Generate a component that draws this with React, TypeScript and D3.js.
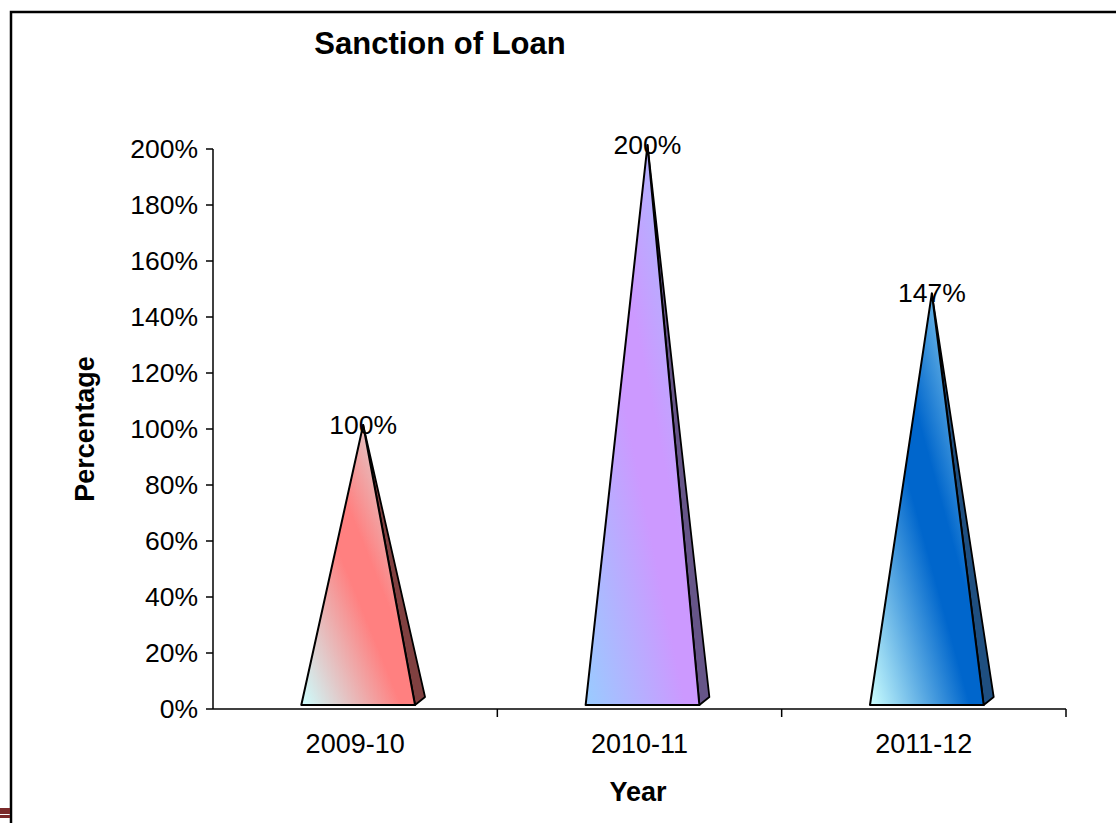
import React from "react";
import * as d3 from "d3";

// Sanction of loan, as a percentage, by financial year
const years = ["2009-10", "2010-11", "2011-12"];
const percentages = [100, 200, 147];
const yTicks = [0, 20, 40, 60, 80, 100, 120, 140, 160, 180, 200];

// gradient colours per pyramid: edge colour, centre colour, shaded side
const edgeColors = ["#ccffff", "#99ccff", "#ccffff"];
const centerColors = ["#ff8080", "#cc99ff", "#0066cc"];
const sideColors = ["#804040", "#665588", "#1f4f80"];

const W = 1116;
const H = 823;
const left = 213;
const right = 1066;
const top = 149;
const bottom = 709;

// 3D depth of the pyramid bases
const depthX = 10;
const depthY = -8;
const lift = 4;

const FONT = "'Liberation Sans', Arial, sans-serif";

export default function App() {
  const x = d3.scaleBand<string>().domain(years).range([left, right]).padding(0);
  const y = d3.scaleLinear().domain([0, 200]).range([bottom, top]);
  const baseWidth = x.bandwidth() * 0.4;

  return (
    <svg
      width={W}
      height={H}
      style={{ position: "absolute", left: 0, top: 0, background: "#fff" }}
      fontFamily={FONT}
    >
      <defs>
        {years.map((yr, i) => (
          <linearGradient key={yr} id={`g${i}`} x1="0" y1="1" x2="1" y2="0">
            <stop offset="0" stopColor={edgeColors[i]} />
            <stop offset="0.44" stopColor={centerColors[i]} />
            <stop offset="0.56" stopColor={centerColors[i]} />
            <stop offset="1" stopColor={edgeColors[i]} />
          </linearGradient>
        ))}
      </defs>

      {/* frame */}
      <rect x={11} y={12} width={W + 20} height={H + 20} fill="none" stroke="#000" strokeWidth={2.5} />
      <rect x={0} y={808} width={10} height={6} fill="#7a2a2a" />
      <rect x={0} y={815} width={10} height={3} fill="#7a2a2a" />

      {/* title */}
      <text x={440} y={54} textAnchor="middle" fontSize={31} fontWeight="bold">
        Sanction of Loan
      </text>

      {/* y axis */}
      <line x1={left} x2={left} y1={top} y2={bottom} stroke="#000" strokeWidth={1.5} />
      {yTicks.map((t) => (
        <g key={t}>
          <line x1={left - 7} x2={left} y1={y(t)} y2={y(t)} stroke="#000" strokeWidth={1.5} />
          <text x={left - 15} y={y(t) + 9} textAnchor="end" fontSize={26.5}>
            {t}%
          </text>
        </g>
      ))}
      <text
        transform={`translate(94,${(top + bottom) / 2}) rotate(-90)`}
        textAnchor="middle"
        fontSize={27}
        fontWeight="bold"
      >
        Percentage
      </text>

      {/* x axis */}
      <line x1={left} x2={right} y1={bottom} y2={bottom} stroke="#000" strokeWidth={1.5} />
      {years.map((yr) => (
        <line
          key={yr}
          x1={(x(yr) as number) + x.bandwidth()}
          x2={(x(yr) as number) + x.bandwidth()}
          y1={bottom}
          y2={bottom + 8}
          stroke="#000"
          strokeWidth={1.5}
        />
      ))}
      {years.map((yr) => (
        <text
          key={yr}
          x={(x(yr) as number) + x.bandwidth() / 2}
          y={753}
          textAnchor="middle"
          fontSize={27}
        >
          {yr}
        </text>
      ))}
      <text x={638} y={801} textAnchor="middle" fontSize={27} fontWeight="bold">
        Year
      </text>

      {/* pyramids */}
      {years.map((yr, i) => {
        const cx = (x(yr) as number) + x.bandwidth() / 2 + 3;
        const by = bottom - lift;
        const l = cx - baseWidth / 2;
        const r = cx + baseWidth / 2;
        const ax = cx + depthX / 2;
        const ay = y(percentages[i]) + depthY / 2;
        const front = `${l},${by} ${r},${by} ${ax},${ay}`;
        const side = `${r},${by} ${r + depthX},${by + depthY} ${ax},${ay}`;
        return (
          <g key={yr}>
            <polygon points={side} fill={sideColors[i]} stroke="#000" strokeWidth={1.8} strokeLinejoin="round" />
            <polygon points={front} fill={`url(#g${i})`} stroke="#000" strokeWidth={2} strokeLinejoin="round" />
            <text x={ax} y={ay + 9} textAnchor="middle" fontSize={26.5}>
              {percentages[i]}%
            </text>
          </g>
        );
      })}
    </svg>
  );
}
